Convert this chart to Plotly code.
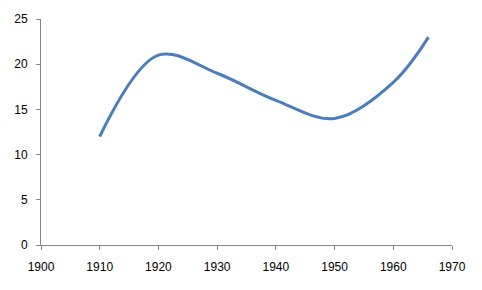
import plotly.graph_objects as go

years = [1910, 1920, 1930, 1940, 1950, 1960, 1966]
values = [12, 21, 19, 16, 14, 18, 23]

x_ticks = [1900, 1910, 1920, 1930, 1940, 1950, 1960, 1970]
y_ticks = [0, 5, 10, 15, 20, 25]

fig = go.Figure()
fig.add_trace(go.Scatter(
    x=years, y=values, mode="lines",
    line=dict(color="#4a7ebb", width=3, shape="spline", smoothing=1.0),
    showlegend=False,
))

axis_common = dict(
    showgrid=False, zeroline=False, showline=True, linecolor="#868686", linewidth=1,
    ticks="outside", ticklen=4, tickcolor="#868686",
    tickfont=dict(family="Liberation Sans, Arial, sans-serif", size=12, color="#000000"),
)
fig.update_layout(
    width=482, height=290,
    margin=dict(l=41, r=30, t=15, b=45),
    paper_bgcolor="white", plot_bgcolor="white",
    xaxis=dict(range=[1900, 1970], tickvals=x_ticks, ticktext=[str(v) for v in x_ticks],
               ticklabelstandoff=7, **axis_common),
    yaxis=dict(range=[0, 25], tickvals=y_ticks, ticktext=[str(v) for v in y_ticks],
               ticklabelstandoff=6, **axis_common),
)
fig.write_html("out.html")
